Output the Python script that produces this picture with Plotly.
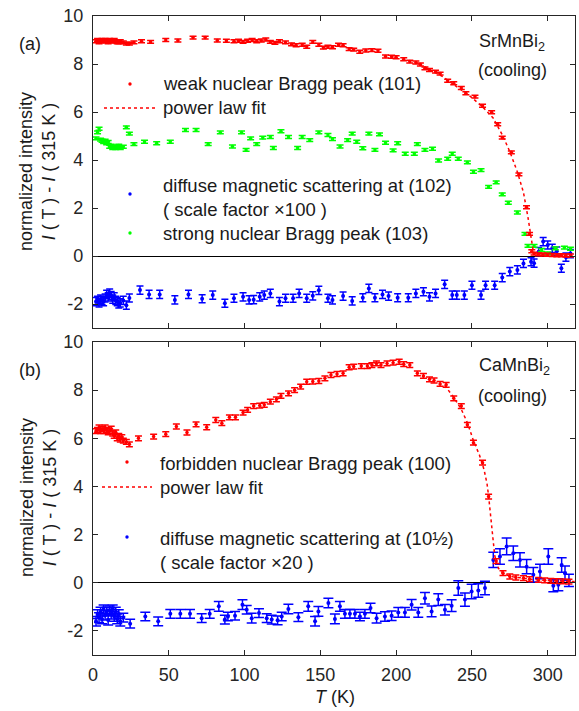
import plotly.graph_objects as go

# ---------------- (a) SrMnBi2 ----------------
# weak nuclear Bragg peak (101)
t_a_101 = [2, 3, 4, 5, 6, 7, 8, 9, 10, 11, 12, 13, 14, 15, 16, 17, 18, 20, 22, 24, 27,
           32, 38, 48, 56, 66, 74, 82, 88, 93, 96, 99, 102, 105, 108, 111, 114, 117, 120,
           123, 127, 131, 134, 138, 141, 145, 149, 152, 155, 158, 162, 165, 169, 172, 176,
           180, 184, 188, 193, 197, 200, 205, 209, 213, 216, 219, 222, 226, 229, 234, 238,
           243, 246, 252, 257, 263, 267, 270, 276, 281, 286, 288, 289.5, 291, 294, 297,
           300, 303, 306, 309, 312, 315]
i_a_101 = [8.95, 9.0, 8.9, 8.95, 9.0, 8.95, 9.0, 8.95, 8.9, 9.0, 8.95, 8.95, 9.0, 8.95, 8.9,
           8.9, 8.95, 8.9, 8.85, 8.85, 8.9, 8.95, 8.92, 9.0, 8.98, 9.1, 9.1, 8.98, 8.97,
           8.95, 8.97, 8.92, 8.97, 9.0, 8.95, 8.98, 9.02, 8.92, 8.88, 8.95, 8.9, 8.82, 8.78,
           8.8, 8.72, 8.92, 8.8, 8.68, 8.72, 8.7, 8.8, 8.78, 8.62, 8.6, 8.51, 8.56, 8.58,
           8.55, 8.31, 8.3, 8.28, 8.2, 8.1, 8.06, 7.98, 7.82, 7.75, 7.68, 7.6, 7.3, 7.2,
           7.0, 6.78, 6.64, 6.26, 5.99, 5.49, 4.93, 4.32, 3.4, 2.03, 0.92, 0.2, 0.1, 0.07,
           0.06, 0.05, 0.04, 0.03, 0.03, 0.02, 0.02]
err_a_101 = 0.06

# power law fit of (101)
t_a_fit = [215, 220, 230, 240, 250, 258, 264, 270, 275, 280, 284, 287, 288, 289, 289.7,
           290.5, 292, 295, 300, 306, 312, 318]
i_a_fit = [8.0, 7.85, 7.5, 7.05, 6.6, 6.15, 5.75, 5.05, 4.35, 3.5, 2.65, 1.6, 1.15, 0.7,
           0.35, 0.18, 0.11, 0.08, 0.05, 0.04, 0.03, 0.02]

# diffuse magnetic scattering at (102), x100
t_a_102 = [2, 3, 4, 5, 6, 7, 8, 9, 10, 11, 12, 13, 14, 15, 16, 17, 18, 20, 22, 24,
           31, 37, 44, 54, 63, 72, 79, 87, 93, 99, 103, 106, 110, 113, 117, 123, 127, 132,
           136, 141, 145, 149, 155, 158, 165, 171, 178, 182, 186, 191, 195, 201, 208, 213,
           218, 222, 226, 232, 237, 240, 245, 250, 256, 259, 265, 270, 275, 280, 284, 289,
           291, 294, 297, 300, 303, 306, 309, 312, 315]
i_a_102 = [-1.9, -1.85, -1.95, -1.8, -1.85, -1.9, -1.75, -1.6, -1.7, -1.55, -1.65, -1.8,
           -1.7, -1.85, -1.9, -2.0, -1.95, -1.85, -2.05, -1.75,
           -1.42, -1.6, -1.6, -1.83, -1.6, -1.78, -1.63, -1.97, -1.76, -1.7, -1.83, -1.82,
           -1.7, -1.63, -1.56, -1.9, -1.76, -1.76, -1.56, -1.76, -1.66, -1.43, -1.76,
           -1.83, -1.67, -1.87, -1.74, -1.35, -1.74, -1.6, -1.67, -1.74, -1.74, -1.56,
           -1.49, -1.7, -1.56, -1.18, -1.63, -1.63, -1.63, -1.22, -1.63, -1.22, -1.22,
           -0.9, -0.65, -0.58, -0.31, -0.24, -0.3, 0.18, 0.6, 0.46, 0.32, 0.2, -0.51,
           -0.05, 0.1]
err_a_102 = 0.17

# strong nuclear Bragg peak (103)
t_a_103 = [2, 3, 4, 5, 6, 7, 8, 9, 10, 11, 12, 13, 14, 15, 16, 17, 18, 20, 22, 24, 27,
           34, 42, 51, 61, 68, 76, 84, 92, 98, 101, 104, 108, 112, 117, 119, 124, 129, 135,
           138, 143, 149, 155, 158, 163, 168, 171, 174, 178, 182, 186, 189, 193, 198, 201,
           206, 212, 214, 219, 224, 228, 234, 237, 241, 247, 251, 256, 261, 266, 270, 274,
           280, 285, 287, 291, 296, 300, 305, 311, 315]
i_a_103 = [4.9, 5.15, 5.3, 4.85, 4.8, 4.75, 4.8, 4.7, 4.75, 4.55, 4.6, 4.5, 4.55, 4.5,
           4.55, 4.6, 4.5, 4.55, 5.36, 5.1, 4.66, 4.76, 4.7, 4.76, 5.25, 5.25, 4.66, 5.15,
           4.56, 5.15, 4.42, 4.9, 4.66, 4.93, 4.96, 4.5, 5.2, 4.96, 4.5, 4.96, 4.83, 5.15,
           5.04, 4.87, 4.56, 4.83, 5.1, 4.76, 4.49, 5.1, 4.42, 5.07, 4.72, 4.4, 4.7, 4.26,
           4.26, 4.66, 4.42, 4.47, 3.98, 4.05, 4.26, 4.05, 3.9, 3.51, 3.58, 2.88, 3.07,
           2.57, 2.22, 1.81, 0.92, 0.42, 0.42, 0.25, 0.11, 0.32, 0.35, 0.3]
err_a_103 = 0.06

# ---------------- (b) CaMnBi2 ----------------
# forbidden nuclear Bragg peak (100)
t_b_100 = [2, 3, 4, 5, 6, 7, 8, 9, 10, 11, 12, 13, 14, 15, 16, 17, 18, 19, 20, 22, 24,
           30, 40, 48, 55, 62, 68, 75, 81, 85, 90, 94, 99, 102, 106, 110, 113, 117, 121,
           124, 129, 133, 137, 141, 145, 149, 153, 157, 161, 165, 169, 172, 177, 181, 184,
           187, 190, 194, 198, 202, 205, 209, 214, 218, 222, 225, 229, 233, 238, 243, 247,
           251, 257, 261, 266, 270.5, 275, 279, 284, 288, 294, 298, 302, 306, 310, 314]
i_b_100 = [6.3, 6.35, 6.45, 6.3, 6.4, 6.3, 6.45, 6.35, 6.25, 6.3, 6.4, 6.2, 6.1, 6.25,
           6.0, 6.1, 5.95, 6.05, 5.9, 5.85, 5.75, 6.0, 6.07, 6.17, 6.49, 6.24, 6.58, 6.46,
           6.76, 6.63, 6.87, 6.87, 7.07, 7.18, 7.34, 7.36, 7.39, 7.52, 7.62, 7.76, 7.87,
           8.0, 8.15, 8.35, 8.36, 8.38, 8.49, 8.63, 8.67, 8.7, 8.95, 8.98, 9.0, 9.0, 9.04,
           9.11, 9.04, 9.11, 9.14, 9.18, 9.08, 9.04, 8.7, 8.59, 8.45, 8.4, 8.26, 8.22, 7.66,
           7.34, 6.56, 5.82, 4.99, 3.58, 0.9, 0.4, 0.26, 0.22, 0.19, 0.15, 0.12, 0.1, 0.08,
           0.07, 0.06, 0.05]
err_b_100 = 0.1

# power law fit of (100)
t_b_fit = [232, 238, 243, 247, 251, 255, 258, 260, 261, 262, 263, 264, 265, 266, 267.5,
           270, 273, 277, 282, 290, 300, 310, 318]
i_b_fit = [8.2, 7.7, 7.2, 6.65, 5.9, 5.3, 4.7, 4.1, 3.6, 2.9, 2.2, 1.6, 1.15, 0.88, 0.6,
           0.42, 0.32, 0.25, 0.2, 0.14, 0.09, 0.06, 0.05]

# diffuse magnetic scattering at (1 0 1/2), x20
t_b_half = [2, 3, 4, 5, 6, 7, 8, 9, 10, 11, 12, 13, 14, 15, 16, 17, 18, 20, 24.5, 34.5,
            43, 51, 57.6, 64, 71.7, 77, 83, 87, 89, 93.7, 98.6, 101.4, 104.7, 109.5, 114.6,
            117.9, 121.8, 124.5, 128.9, 135.5, 142, 146.5, 148.7, 155.3, 159.6, 162.9,
            166.2, 169.5, 172.8, 176.1, 179.4, 183.1, 187.1, 192.6, 197, 201.4, 205.8,
            210.2, 214.6, 219, 223.4, 227.8, 232.2, 236.6, 241, 245.4, 249.8, 254.2, 258.6,
            264.1, 268.5, 272.9, 277.3, 281.7, 286.1, 290.5, 294.9, 300.4, 303.7, 307,
            309.2, 311.4, 314]
i_b_half = [-1.6, -1.3, -1.45, -1.2, -1.5, -1.1, -1.35, -1.2, -1.55, -1.15, -1.3, -1.1,
            -1.4, -1.2, -1.5, -1.3, -1.6, -1.45, -1.7, -1.4, -1.6, -1.29, -1.29, -1.29,
            -1.47, -1.29, -0.98, -1.53, -1.4, -1.37, -0.91, -1.12, -1.47, -1.26, -1.47,
            -1.53, -1.56, -1.4, -1.09, -1.43, -0.98, -1.6, -1.19, -0.84, -1.5, -0.98, -1.29,
            -1.29, -1.29, -1.4, -1.29, -1.05, -1.47, -1.4, -1.37, -1.23, -1.23, -0.91, -1.23,
            -0.64, -1.19, -0.7, -1.12, -0.95, -0.22, -0.7, -0.36, -0.32, -0.22, 0.95, 1.09,
            1.51, 1.23, 0.95, 0.67, 0.33, 0.47, 1.09, -0.12, -0.08, 0.74, 0.4, 0.1]
err_b_half = [0.2, 0.18, 0.2, 0.18, 0.2, 0.18, 0.2, 0.18, 0.2, 0.18, 0.2, 0.18, 0.2, 0.18,
              0.2, 0.18, 0.2, 0.18, 0.18, 0.18, 0.18, 0.18, 0.18, 0.18, 0.18, 0.18, 0.2,
              0.18, 0.18, 0.18, 0.2, 0.18, 0.2, 0.18, 0.18, 0.18, 0.18, 0.18, 0.2, 0.18, 0.2,
              0.2, 0.2, 0.2, 0.2, 0.2, 0.18, 0.18, 0.18, 0.18, 0.18, 0.2, 0.2, 0.2, 0.2, 0.2,
              0.2, 0.22, 0.2, 0.24, 0.22, 0.24, 0.22, 0.24, 0.3, 0.28, 0.3, 0.28, 0.28,
              0.32, 0.32, 0.35, 0.3, 0.3, 0.3, 0.3, 0.3, 0.32, 0.25, 0.25, 0.3, 0.3, 0.25]

x_ticks = [0, 50, 100, 150, 200, 250, 300]
y_ticks = [-2, 0, 2, 4, 6, 8, 10]
y_tick_text = ["-2", "0", "2", "4", "6", "8", "10"]

RED, GREEN, BLUE = "#ff0000", "#00ff00", "#0000ff"
AX = "#262626"
FONT = "Liberation Sans, Arial, Helvetica, sans-serif"

W, H = 579, 711
ML, MR, MT, MB = 93, 4, 16, 56
PW, PH = W - ML - MR, H - MT - MB


def px_x(x):
    return (x - ML) / PW


def px_y(y):
    return (H - MB - y) / PH


def points(t, v, err, color, xa, ya, cap, size):
    if isinstance(err, list):
        ey = dict(type="data", array=err)
    else:
        ey = dict(type="constant", value=err)
    ey.update(color=color, thickness=1.5, width=cap, visible=True)
    return go.Scatter(
        x=t, y=v, mode="markers", xaxis=xa, yaxis=ya, showlegend=False,
        marker=dict(color=color, size=size, line=dict(width=0)), error_y=ey,
    )


def fit(t, v, xa, ya):
    return go.Scatter(x=t, y=v, mode="lines", xaxis=xa, yaxis=ya, showlegend=False,
                      line=dict(color=RED, width=1.5, dash="dot"))


fig = go.Figure()
fig.add_trace(points(t_a_102, i_a_102, err_a_102, BLUE, "x", "y", 3.5, 4))
fig.add_trace(points(t_a_103, i_a_103, err_a_103, GREEN, "x", "y", 3.5, 3.5))
fig.add_trace(points(t_a_101, i_a_101, err_a_101, RED, "x", "y", 3.5, 3.5))
fig.add_trace(fit(t_a_fit, i_a_fit, "x", "y"))

fig.add_trace(points(t_b_half, i_b_half, err_b_half, BLUE, "x2", "y2", 5, 4))
fig.add_trace(points(t_b_100, i_b_100, err_b_100, RED, "x2", "y2", 3.5, 3.5))
fig.add_trace(fit(t_b_fit, i_b_fit, "x2", "y2"))

axis_common = dict(
    showline=True, linecolor=AX, linewidth=1.2, mirror="ticks", ticks="inside",
    ticklen=5, tickwidth=1.1, tickcolor=AX, showgrid=False,
    tickfont=dict(family=FONT, size=18, color=AX),
)
xa = dict(axis_common, range=[0, 318], tickvals=x_ticks, zeroline=False)
ya = dict(axis_common, range=[-3, 10], tickvals=y_ticks, ticktext=y_tick_text,
          zeroline=True, zerolinecolor="#000000", zerolinewidth=1, ticklabelstandoff=5)

top_dom = [1 - 312 / PH, 1]
bot_dom = [0, 1 - 326 / PH]

fig.update_layout(
    width=W, height=H, margin=dict(l=ML, r=MR, t=MT, b=MB),
    paper_bgcolor="white", plot_bgcolor="white", showlegend=False,
    font=dict(family=FONT, size=18, color="#1a1a1a"),
    xaxis=dict(xa, anchor="y", domain=[0, 1], showticklabels=False),
    yaxis=dict(ya, anchor="x", domain=top_dom),
    xaxis2=dict(xa, anchor="y2", domain=[0, 1], ticklabelstandoff=3),
    yaxis2=dict(ya, anchor="x2", domain=bot_dom),
)

ann = []
shapes = []


def text(x, y, s, anchor="left", size=18, angle=0):
    ann.append(dict(x=px_x(x), y=px_y(y), xref="paper", yref="paper", text=s,
                    showarrow=False, xanchor=anchor, yanchor="middle", textangle=angle,
                    align=anchor if anchor != "center" else "center",
                    font=dict(family=FONT, size=size, color="#1a1a1a")))


def dot_key(cx, cy, color):
    r = 1.7
    shapes.append(dict(type="circle", xref="paper", yref="paper",
                       x0=px_x(cx - r), x1=px_x(cx + r), y0=px_y(cy + r), y1=px_y(cy - r),
                       fillcolor=color, line=dict(width=0)))


def line_key(x0, x1, y):
    shapes.append(dict(type="line", xref="paper", yref="paper",
                       x0=px_x(x0), x1=px_x(x1), y0=px_y(y), y1=px_y(y),
                       line=dict(color=RED, width=1.5, dash="dot")))


# panel (a)
text(30, 44, "(a)", "center")
text(512, 42, "SrMnBi<sub>2</sub>", "center")
text(512, 70, "(cooling)", "center")
dot_key(130, 84, RED)
text(161, 84, "weak nuclear Bragg peak (101)", size=18.5)
line_key(104, 155, 108)
text(161, 108, "power law fit", size=18.5)
dot_key(130, 194, BLUE)
text(161, 197, "diffuse magnetic scattering at (102)<br>( scale factor ×100 )", size=18.5)
dot_key(130, 233, GREEN)
text(161, 233, "strong nuclear Bragg peak (103)", size=18.5)
text(38, 172, "normalized intensity<br><i>I</i> ( T ) - <i>I</i> ( 315 K )", "center", 18, -90)

# panel (b)
text(30, 370, "(b)", "center")
text(514, 366, "CaMnBi<sub>2</sub>", "center")
text(512, 396, "(cooling)", "center")
dot_key(127, 462, RED)
text(158, 463, "forbidden nuclear Bragg peak (100)", size=18.5)
line_key(102, 152, 487)
text(158, 487, "power law fit", size=18.5)
dot_key(127, 537, BLUE)
text(158, 550, "diffuse magnetic scattering at (10½)<br>( scale factor ×20 )", size=18.5)
text(38, 498, "normalized intensity<br><i>I</i> ( T ) - <i>I</i> ( 315 K )", "center", 18, -90)

# x-axis title
text(335, 697, "<i>T</i> (K)", "center")

fig.update_layout(annotations=ann, shapes=shapes)
fig.write_html("out.html")
